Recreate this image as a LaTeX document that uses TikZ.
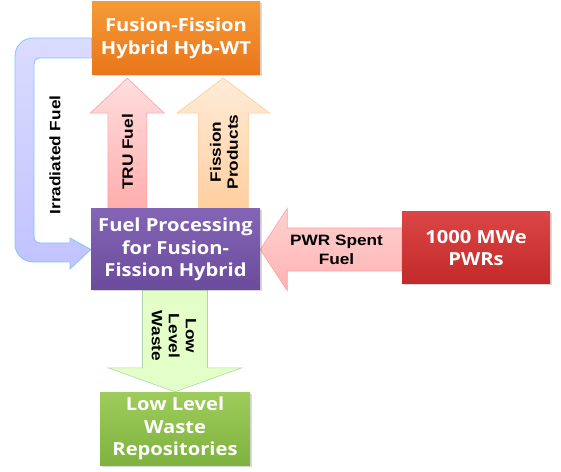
\documentclass[tikz,border=0pt]{standalone}
\usepackage{fontspec}
\setmainfont{Open Sans}
\newfontfamily\boxfont[FakeStretch=1.12]{Open Sans}
\newfontfamily\lblfont[FakeStretch=1.15]{Liberation Sans}
\usetikzlibrary{calc,shadows,backgrounds}

\definecolor{hybTop}{HTML}{F59A36}
\definecolor{hybBot}{HTML}{E8761A}
\definecolor{procTop}{HTML}{8464B5}
\definecolor{procBot}{HTML}{6B4C9C}
\definecolor{pwrTop}{HTML}{DC4545}
\definecolor{pwrBot}{HTML}{C22A2A}
\definecolor{repoTop}{HTML}{9ECC5C}
\definecolor{repoBot}{HTML}{7FB23E}

\tikzset{
  box/.style={rectangle, text=white, align=center, inner sep=2pt,
    font=\boxfont\bfseries\fontsize{18}{22.5}\selectfont,
    drop shadow={opacity=0.3, shadow xshift=1.5pt, shadow yshift=-1.5pt}},
  lbl/.style={font=\lblfont\bfseries\fontsize{15}{18}\selectfont, align=center, inner sep=0pt},
  truarrow/.style={top color=red!13, bottom color=red!32, draw=red!38, line width=0.6pt},
  fisarrow/.style={top color=orange!15, bottom color=orange!38, draw=orange!42, line width=0.6pt},
  pwrarrow/.style={top color=red!18, bottom color=red!30, draw=red!38, line width=0.6pt},
  llwarrow/.style={fill=green!50!yellow!22, draw=green!50!black!32, line width=0.6pt},
  irrarrow/.style={top color=blue!14, bottom color=blue!24, draw=blue!45!cyan!50, line width=0.8pt},
}

% fat arrow: style, from, to, shaft half width, head half width, head length
\newcommand{\blockarrow}[6]{%
  \path ($(#3)!#6!(#2)$) coordinate (bah);
  \draw[#1] ($(#2)!#4!90:(#3)$) -- ($(bah)!#4!-90:(#2)$) -- ($(bah)!#5!-90:(#2)$)
    -- (#3) -- ($(bah)!#5!90:(#2)$) -- ($(bah)!#4!90:(#2)$) -- ($(#2)!#4!-90:(#3)$) -- cycle;}

\begin{document}
\begin{tikzpicture}[x=1pt,y=1pt]
\useasboundingbox (0,0) rectangle (561,471);

% Boxes
\node[box, minimum width=168pt, minimum height=73pt, top color=hybTop, bottom color=hybBot] (hyb) at (176,432.5) {Fusion-Fission\\Hybrid Hyb-WT};
\node[box, minimum width=169pt, minimum height=81pt, top color=procTop, bottom color=procBot] (proc) at (175.5,221.5) {Fuel Processing\\for Fusion-\\Fission Hybrid};
\node[box, minimum width=148pt, minimum height=72pt, top color=pwrTop, bottom color=pwrBot] (pwr) at (476,223) {1000 MWe\\PWRs};
\node[box, minimum width=150pt, minimum height=73pt, top color=repoTop, bottom color=repoBot] (repo) at (175,42.5) {Low Level\\Waste\\Repositories};

\begin{pgfonlayer}{background}
    % Arrow ends
    \coordinate (truA) at ($(proc.north west)+(36.5,0)$);
    \coordinate (truB) at ($(truA |- hyb.south)+(0,-3)$);
    \coordinate (fisA) at ($(proc.north west)+(132.5,0)$);
    \coordinate (fisB) at ($(fisA |- hyb.south)+(0,-3)$);
    \coordinate (pwrA) at (pwr.west |- proc.east);
    \coordinate (llwA) at (repo.north |- proc.south);

    \blockarrow{truarrow}{truA}{truB}{19.5pt}{37pt}{35pt}
    \blockarrow{fisarrow}{fisA}{fisB}{25pt}{46.5pt}{35pt}
    \blockarrow{pwrarrow}{pwrA}{proc.east}{21.5pt}{41pt}{27pt}
    \blockarrow{llwarrow}{llwA}{repo.north}{32.5pt}{67pt}{24pt}

    % Irradiated fuel back to processing
    \draw[irrarrow] ($(hyb.west)+(0,0.5)$) [rounded corners=18pt] -- (15,433) -- (15,209) [sharp corners]
        -- (70,209) -- (70,202) -- (proc.west) -- (70,233) -- (70,228) [rounded corners=6pt]
        -- (34,228) -- (34,413) [sharp corners] -- ($(hyb.west)+(0,-19.5)$) -- cycle;
\end{pgfonlayer}

% Arrow labels
\node[lbl, rotate=90] (irrlbl) at (55,316) {Irradiated Fuel};
\node[lbl, rotate=90] (trulbl) at (127.5,319) {TRU Fuel};
\node[lbl, rotate=90, font=\lblfont\bfseries\fontsize{15}{17}\selectfont] (fislbl) at (224,319) {Fission\\Products};
\node[lbl, font=\lblfont\bfseries\fontsize{15}{19}\selectfont] (pwrlbl) at (336.5,221.5) {PWR Spent\\Fuel};
\node[lbl, rotate=-90, font=\lblfont\bfseries\fontsize{15}{17}\selectfont] (llwlbl) at (174,135) {Low\\Level\\Waste};

\end{tikzpicture}
\end{document}
